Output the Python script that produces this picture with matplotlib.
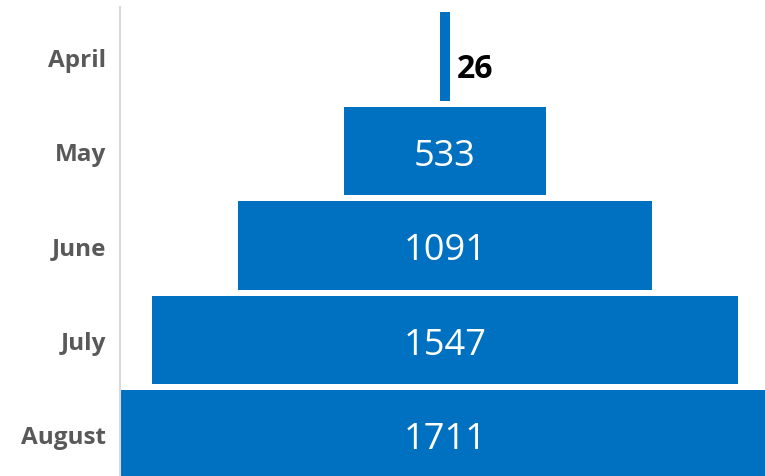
import matplotlib.pyplot as plt

# funnel data
months = ["April", "May", "June", "July", "August"]
values = [26, 533, 1091, 1547, 1711]

bar_color = "#0070C0"
label_color = "#595959"

fig = plt.figure(figsize=(7.65, 4.77), dpi=100)
ax = fig.add_axes([120 / 765, 0, 1 - 120 / 765, 469 / 477])

ypos = list(range(len(months)))
lefts = [-v / 2 for v in values]
ax.barh(ypos, values, left=lefts, height=0.94, color=bar_color)

for y, v in zip(ypos, values):
    if v < 100:
        ax.text(v / 2 + 18, y + 0.13, str(v), ha="left", va="center",
                fontsize=23, fontweight="bold", color="black", family="Open Sans")
    else:
        ax.text(0, y + 0.05, str(v), ha="center", va="center",
                fontsize=26, color="white", family="Open Sans")

ax.set_xlim(-858, 845)
ax.set_ylim(4.44, -0.525)
ax.set_yticks(ypos)
ax.set_yticklabels(months, fontsize=17.5, fontweight="bold", color=label_color,
                   family="Open Sans")
ax.tick_params(axis="y", length=0, pad=10)
ax.set_xticks([])

for s in ["top", "right", "bottom"]:
    ax.spines[s].set_visible(False)
ax.spines["left"].set_color("#d9d9d9")
ax.spines["left"].set_linewidth(1.5)

fig.savefig("out.png", dpi=100)
